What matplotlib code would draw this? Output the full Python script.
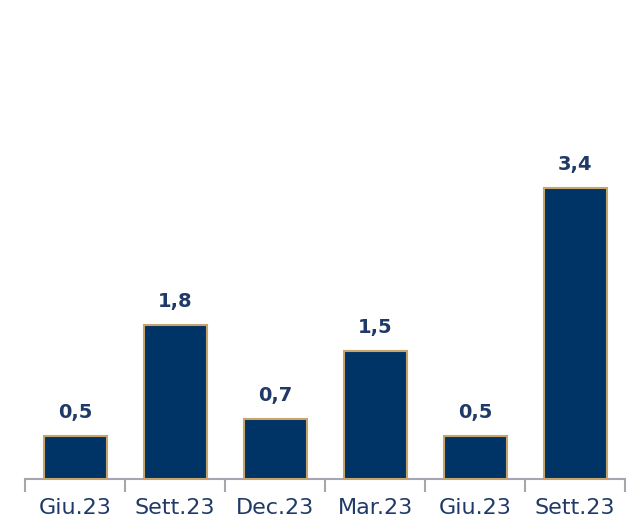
import matplotlib
matplotlib.use("Agg")
import matplotlib.pyplot as plt

categories = ["Giu.23", "Sett.23", "Dec.23", "Mar.23", "Giu.23", "Sett.23"]
values = [0.5, 1.8, 0.7, 1.5, 0.5, 3.4]
value_labels = ["0,5", "1,8", "0,7", "1,5", "0,5", "3,4"]

navy = "#003366"
edge = "#c8a46a"
text_col = "#1f3a68"
axis_col = "#a6a6ae"

fig = plt.figure(figsize=(6.27, 5.24), dpi=100)
ax = fig.add_axes([25/627, 1 - 479/524, 600/627, 479/524])
x = list(range(len(categories)))
ax.bar(x, values, width=0.63, color=navy, edgecolor=edge, linewidth=1.5, zorder=3)
for xi, v, lab in zip(x, values, value_labels):
    ax.annotate(lab, (xi, v), xytext=(0, 10), textcoords="offset points",
                ha="center", va="bottom", fontsize=14, fontweight="bold", color=text_col)
ax.set_xlim(-0.5, len(categories) - 0.5)
ax.set_ylim(0, 479/85.6)
for s in ["top", "right", "left"]:
    ax.spines[s].set_visible(False)
ax.spines["bottom"].set_color(axis_col)
ax.spines["bottom"].set_linewidth(1.5)
ax.set_yticks([])
ax.set_xticks(x)
ax.set_xticklabels(categories, fontsize=16, color=text_col)
ax.tick_params(axis="x", length=0, pad=14)
ax.set_xticks([i - 0.5 for i in range(len(categories) + 1)], minor=True)
ax.tick_params(axis="x", which="minor", length=9, width=1.5, color=axis_col)
fig.savefig("out.png", dpi=100)
